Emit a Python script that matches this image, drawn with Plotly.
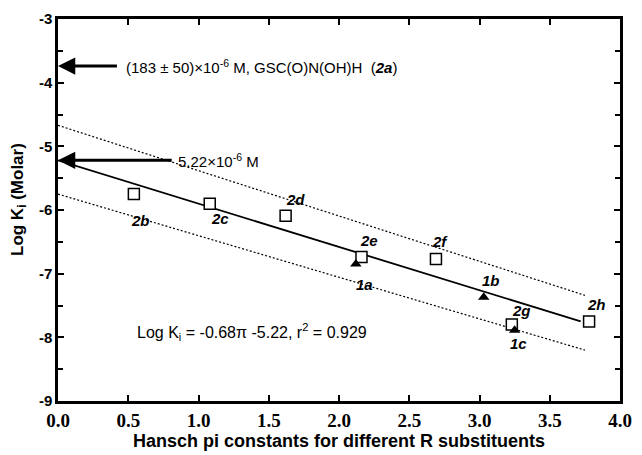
import plotly.graph_objects as go

# Hansch pi constants and measured log Ki values
series2_labels = ["2b", "2c", "2d", "2e", "2f", "2g", "2h"]
series2_pi = [0.54, 1.08, 1.62, 2.16, 2.69, 3.23, 3.78]
series2_logki = [-5.75, -5.90, -6.09, -6.74, -6.77, -7.80, -7.75]

series1_labels = ["1a", "1b", "1c"]
series1_pi = [2.12, 3.03, 3.25]
series1_logki = [-6.85, -7.37, -7.89]

# Regression fit: log Ki = slope * pi + intercept
slope = -0.68
intercept = -5.22
fit_x = [0.0, 3.72]
fit_y = [slope * x + intercept for x in fit_x]

# Confidence bounds (end points)
upper_x = [0.0, 3.75]
upper_y = [-4.67, -7.34]
lower_x = [0.0, 3.75]
lower_y = [-5.75, -8.20]

# Reference value for 2a
ref_2a = -3.74

# Axis ticks
x_ticks = [0.0, 0.5, 1.0, 1.5, 2.0, 2.5, 3.0, 3.5, 4.0]
y_ticks = [-9, -8, -7, -6, -5, -4, -3]

# label positions (pi, log Ki)
series2_label_pos = [(0.59, -6.17), (1.15, -6.14), (1.69, -5.83), (2.21, -6.48),
                     (2.72, -6.49), (3.30, -7.575), (3.83, -7.48)]
series1_label_pos = [(2.18, -7.17), (3.08, -7.11), (3.275, -8.10)]

fig = go.Figure()

fig.add_trace(go.Scatter(x=upper_x, y=upper_y, mode="lines",
                         line=dict(color="black", width=1.2, dash="2px,2px"),
                         showlegend=False, hoverinfo="skip"))
fig.add_trace(go.Scatter(x=lower_x, y=lower_y, mode="lines",
                         line=dict(color="black", width=1.2, dash="2px,2px"),
                         showlegend=False, hoverinfo="skip"))
fig.add_trace(go.Scatter(x=fit_x, y=fit_y, mode="lines",
                         line=dict(color="black", width=1.8),
                         showlegend=False, hoverinfo="skip"))

fig.add_trace(go.Scatter(x=series2_pi, y=series2_logki, mode="markers",
                         marker=dict(symbol="square", size=11, color="white",
                                     line=dict(color="black", width=1.5)),
                         showlegend=False))
fig.add_trace(go.Scatter(x=series1_pi, y=series1_logki, mode="markers",
                         marker=dict(symbol="triangle-up", size=10, color="black",
                                     line=dict(color="black", width=0)),
                         showlegend=False))

sans = "Liberation Sans, Arial, sans-serif"
label_font = dict(family=sans, size=15, color="black", weight="bold", style="italic")
annotations = []
for lbl, (lx, ly) in zip(series2_labels + series1_labels,
                         series2_label_pos + series1_label_pos):
    annotations.append(dict(x=lx, y=ly, xref="x", yref="y", showarrow=False,
                            text=lbl, font=label_font))

text_font = dict(family=sans, size=15, color="black")

# arrows pointing at the y axis
annotations.append(dict(x=0.0, y=ref_2a, ax=0.43, ay=ref_2a, xref="x", yref="y",
                        axref="x", ayref="y", showarrow=True, arrowhead=2,
                        arrowsize=1.15, arrowwidth=3, arrowcolor="black", text=""))
annotations.append(dict(x=0.47, y=ref_2a, xref="x", yref="y", showarrow=False,
                        xanchor="left",
                        text="(183 ± 50)×10<sup>-6</sup> M, GSC(O)N(OH)H  (<b><i>2a</i></b>)",
                        font=text_font))
annotations.append(dict(x=0.0, y=intercept, ax=0.82, ay=intercept, xref="x", yref="y",
                        axref="x", ayref="y", showarrow=True, arrowhead=2,
                        arrowsize=1.15, arrowwidth=3, arrowcolor="black", text=""))
annotations.append(dict(x=0.84, y=intercept, xref="x", yref="y", showarrow=False,
                        xanchor="left", text="5.22×10<sup>-6</sup> M", font=text_font))

annotations.append(dict(x=0.55, y=-7.91, xref="x", yref="y", showarrow=False,
                        xanchor="left",
                        text="Log K<sub>i</sub> = -0.68π -5.22, r<sup>2</sup> = 0.929",
                        font=dict(family=sans, size=16, color="black")))

# y-axis title
annotations.append(dict(x=18, y=255, xref="paper", yref="paper", showarrow=False,
                        text="Log K<sub>i</sub> (Molar)", textangle=-90,
                        font=dict(family=sans, size=17, color="black", weight="bold")))

fig.update_layout(
    width=642, height=455,
    margin=dict(l=58, r=10, t=17, b=50),
    plot_bgcolor="white", paper_bgcolor="white",
    annotations=annotations,
    showlegend=False,
)

# place the y title in pixel terms relative to the paper area
plot_w = 642 - 58 - 10
plot_h = 455 - 17 - 50
yt = fig.layout.annotations[-1]
yt.update(x=(18 - 58) / plot_w, y=(455 - 50 - 200) / plot_h, xanchor="center",
          yanchor="middle")

fig.update_xaxes(
    range=[0, 4.0], tickmode="array", tickvals=x_ticks,
    ticktext=[f"<b>{v:.1f}</b>" for v in x_ticks],
    showgrid=False, zeroline=False,
    showline=True, linewidth=2.5, linecolor="black", mirror="allticks",
    ticks="inside", ticklen=6, tickwidth=2, tickcolor="black",
    tickfont=dict(family="Liberation Serif, Times New Roman, serif", size=19, color="black"),
    title=dict(text="<b>Hansch pi constants for different R substituents</b>",
               font=dict(family=sans, size=18, color="black"),
               standoff=2),
)
fig.update_yaxes(
    range=[-9, -3], tickmode="array", tickvals=y_ticks,
    ticktext=[f"<b>{v}</b>" for v in y_ticks],
    showgrid=False, zeroline=False,
    showline=True, linewidth=2.5, linecolor="black", mirror="allticks",
    ticks="inside", ticklen=6, tickwidth=2, tickcolor="black",
    minor=dict(dtick=0.5, tick0=-9, ticks="inside", ticklen=5, tickwidth=1.5,
               tickcolor="black"),
    tickfont=dict(family=sans, size=15, color="black"),
)

fig.write_html("out.html")
